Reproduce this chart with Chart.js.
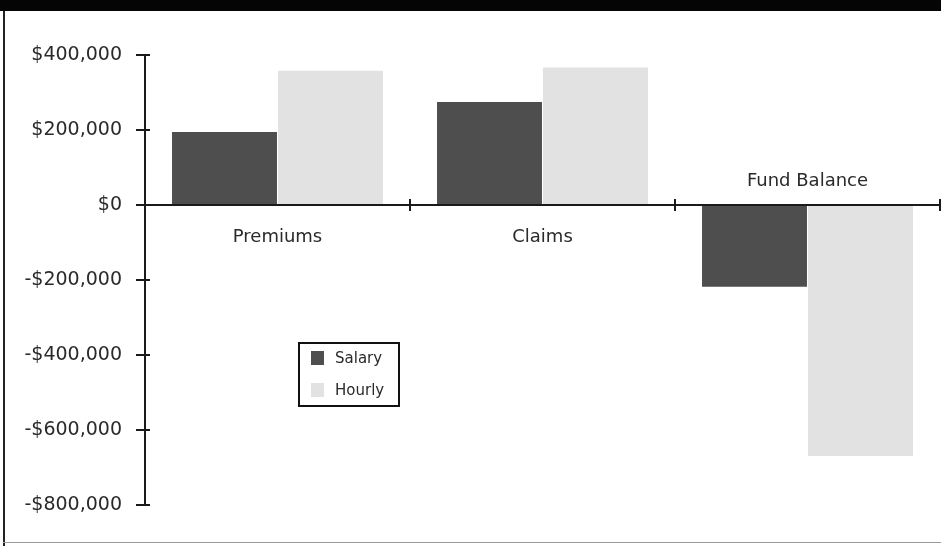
<!DOCTYPE html>
<html>
<head>
<meta charset="utf-8">
<style>
  html, body { margin: 0; padding: 0; background: #fff; }
  #wrap { width: 941px; height: 546px; position: relative; }
</style>
<script src="https://cdn.jsdelivr.net/npm/chart.js@4"></script>
</head>
<body>
<div id="wrap"><canvas id="fundChart" width="941" height="546"></canvas></div>
<script>
// Chart data
const categories = ['Premiums', 'Claims', 'Fund Balance'];
const salaryValues = [195000, 275000, -218000];
const hourlyValues = [358000, 367000, -669000];
const tickValues = [400000, 200000, 0, -200000, -400000, -600000, -800000];

const FONT = '"DejaVu Sans", "Liberation Sans", sans-serif';

function money(v) {
    const s = '$' + Math.abs(v).toLocaleString('en-US');
    return v < 0 ? '-' + s : s;
}

// Frame, axes, category labels and legend
const framePlugin = {
    id: 'frame',
    beforeDraw(chart) {
        const ctx = chart.ctx;
        ctx.save();
        ctx.fillStyle = '#fff';
        ctx.fillRect(0, 0, chart.width, chart.height);
        ctx.fillStyle = '#050505';
        ctx.fillRect(0, 0, chart.width, 11);
        ctx.fillStyle = '#222';
        ctx.fillRect(3, 11, 2, chart.height - 11);
        ctx.fillStyle = '#9a9a9a';
        ctx.fillRect(3, 542, chart.width - 3, 1);
        ctx.restore();
    },
    afterDatasetsDraw(chart) {
        const ctx = chart.ctx;
        const x = chart.scales.x, y = chart.scales.y;
        const area = chart.chartArea;
        const zeroY = y.getPixelForValue(0);
        ctx.save();
        ctx.strokeStyle = '#1a1a1a';
        ctx.lineWidth = 2;
        ctx.beginPath();
        // y axis line and ticks
        ctx.moveTo(area.left, y.getPixelForValue(tickValues[0]));
        ctx.lineTo(area.left, y.getPixelForValue(tickValues[tickValues.length - 1]));
        tickValues.forEach(v => {
            const py = Math.round(y.getPixelForValue(v));
            ctx.moveTo(area.left - 9, py);
            ctx.lineTo(area.left + 5, py);
        });
        // x axis line at zero and category separators
        ctx.moveTo(area.left, zeroY);
        ctx.lineTo(area.right + 1, zeroY);
        for (let i = 1; i <= categories.length; i++) {
            const px = Math.round(x.getPixelForValue(i - 0.5));
            ctx.moveTo(px, zeroY - 6);
            ctx.lineTo(px, zeroY + 6);
        }
        ctx.stroke();

        // category labels: below the axis for positive, above for negative
        ctx.fillStyle = '#2a2a2a';
        ctx.font = '18px ' + FONT;
        ctx.textAlign = 'center';
        ctx.textBaseline = 'middle';
        categories.forEach((c, i) => {
            const cx = x.getPixelForValue(i);
            const neg = salaryValues[i] < 0 && hourlyValues[i] < 0;
            ctx.fillText(c, cx, neg ? zeroY - 24 : zeroY + 32);
        });

        // legend box
        const lx = 299, ly = 343, lw = 100, lh = 63;
        ctx.strokeStyle = '#111';
        ctx.lineWidth = 2;
        ctx.strokeRect(lx, ly, lw, lh);
        ctx.font = '15px ' + FONT;
        ctx.textAlign = 'left';
        chart.data.datasets.forEach((ds, i) => {
            const cy = ly + 15 + i * 32;
            ctx.fillStyle = ds.backgroundColor;
            ctx.fillRect(lx + 12, cy - 7, 13, 14);
            ctx.fillStyle = '#2a2a2a';
            ctx.fillText(ds.label, lx + 36, cy + 1);
        });
        ctx.restore();
    }
};

const ctx = document.getElementById('fundChart').getContext('2d');
new Chart(ctx, {
    type: 'bar',
    data: {
        labels: categories,
        datasets: [
            { label: 'Salary', data: salaryValues, backgroundColor: '#4e4e4e' },
            { label: 'Hourly', data: hourlyValues, backgroundColor: '#e2e2e2' }
        ]
    },
    options: {
        responsive: false,
        animation: false,
        layout: { padding: { left: 0, right: 1, top: 55, bottom: 41 } },
        datasets: { bar: { categoryPercentage: 0.8, barPercentage: 0.99 } },
        plugins: { legend: { display: false }, tooltip: { enabled: false } },
        scales: {
            x: { display: false },
            y: {
                min: -800000,
                max: 400000,
                grid: { display: false, drawTicks: false },
                border: { display: false },
                afterFit(scale) { scale.width = 145; },
                ticks: {
                    stepSize: 200000,
                    padding: 23,
                    color: '#2a2a2a',
                    font: { family: FONT, size: 19 },
                    callback: v => money(v)
                }
            }
        }
    },
    plugins: [framePlugin]
});
</script>
</body>
</html>
